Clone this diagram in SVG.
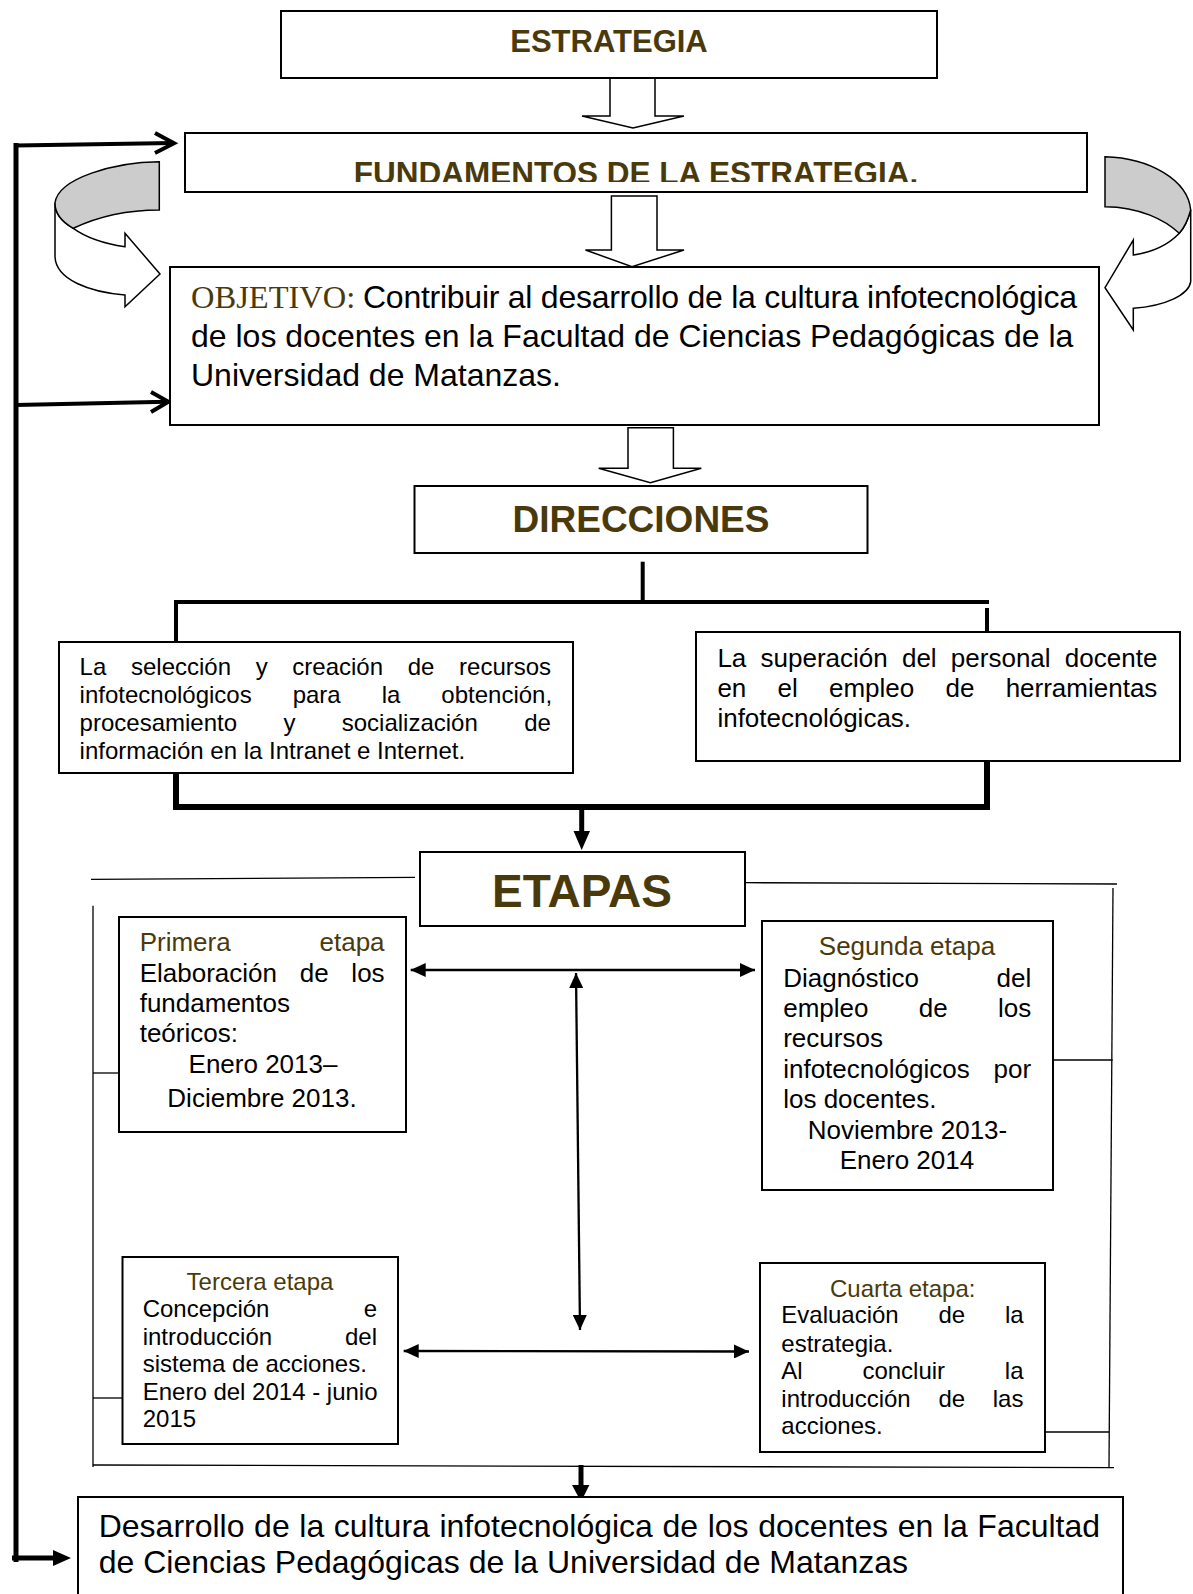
<svg xmlns="http://www.w3.org/2000/svg" width="1193" height="1594" viewBox="0 0 1193 1594">
<style>
.box{fill:#fff;stroke:#000;stroke-width:2}
.blk{fill:#fff;stroke:#000;stroke-width:1.5;stroke-linejoin:miter}
.t{font-family:"Liberation Sans",Arial,sans-serif;fill:#000}
.h{font-family:"Liberation Sans",Arial,sans-serif;font-weight:bold;fill:#4a3a0b;text-anchor:middle}
.br{fill:#4a3a0b}
.m{text-anchor:middle}
.e{text-anchor:end}
.thin{stroke:#000;stroke-width:1.3;fill:none}
.ar{stroke:#000;stroke-width:2.3;fill:none}
.thick{stroke:#000;fill:none}
</style>
<defs>
<marker id="tri" viewBox="0 0 15 14" refX="15" refY="7" markerWidth="15" markerHeight="14" markerUnits="userSpaceOnUse" orient="auto-start-reverse">
<path d="M0,0 L15,7 L0,14 Z" fill="#000"/>
</marker>
<clipPath id="fclip"><rect x="185" y="133" width="902" height="49"/></clipPath>
</defs>
<rect width="1193" height="1594" fill="#fff"/>

<g id="connectors">
<!-- feedback line -->
<line class="thick" x1="16" y1="143" x2="16" y2="1562" stroke-width="5"/>
<line class="thick" x1="16" y1="145.5" x2="173" y2="143" stroke-width="4"/>
<polyline class="thick" points="155,133 174,143.3 155,153" stroke-width="4"/>
<line class="thick" x1="16" y1="405" x2="167" y2="401.7" stroke-width="4"/>
<polyline class="thick" points="151,392 168.4,401.7 151,412" stroke-width="4"/>
<line class="thick" x1="12" y1="1558" x2="55" y2="1558" stroke-width="5"/>
<polygon points="53,1550 71,1558 53,1566" fill="#000"/>
<!-- block arrows -->
<polygon class="blk" points="610,78 655,78 655,116 684,116 633,128 582,116 610,116"/>
<polygon class="blk" points="611.4,196 657,196 657,250 684,250 632,266.7 585.5,250 611.4,250"/>
<polygon class="blk" points="628,427.7 673.4,427.7 673.4,468.3 701.3,468.3 650.4,482.7 598.7,468.3 628,468.3"/>
<!-- curved arrows -->
<path class="blk" d="M55,203 L55,256.7 C56,280 90,292 125,295 L125,306.7 L160,274 L125,233.3 L125,246.7 C100,243 84,236 73.3,228.3 C62,222 55,213 55,203 Z"/>
<path class="blk" style="fill:#cccccc" d="M159.3,161.7 C115,162 58,178 55,203 C55,213 62,222 73.3,228.3 C95,218 125,210 159.3,210 Z"/>
<path class="blk" d="M1190.7,210 L1190.7,281.7 C1189,295 1165,306 1133.3,308.3 L1133.3,330 L1105,287.7 L1133.3,240 L1133.3,255 C1155,252 1170,243 1179.3,233.3 C1184,228 1188,220 1190.7,210 Z"/>
<path class="blk" style="fill:#cccccc" d="M1105,156.7 C1150,158 1188,180 1190.7,210 C1188,220 1184,228 1179.3,233.3 C1165,220 1140,207 1105,206.7 Z"/>
<!-- direcciones tree -->
<line class="thick" x1="642.7" y1="561.7" x2="642.7" y2="602" stroke-width="4"/>
<line class="thick" x1="174" y1="602" x2="989" y2="602" stroke-width="4"/>
<line class="thick" x1="176" y1="602" x2="176" y2="642" stroke-width="4"/>
<line class="thick" x1="987" y1="608" x2="987" y2="632" stroke-width="4"/>
<polyline class="thick" points="176,773 176,807 987,807 987,761" stroke-width="6"/>
<line class="thick" x1="581.7" y1="807" x2="581.7" y2="833" stroke-width="5"/>
<polygon points="573.5,831 590,831 581.7,850" fill="#000"/>
<!-- etapas frame -->
<line class="thin" x1="91" y1="879.3" x2="415" y2="877.3"/>
<line class="thin" x1="745" y1="882.7" x2="1117" y2="884"/>
<line class="thin" x1="93" y1="905.7" x2="93" y2="1467"/>
<line class="thin" x1="93" y1="1073" x2="119" y2="1073"/>
<line class="thin" x1="93" y1="1398" x2="122.5" y2="1398"/>
<line class="thin" x1="93" y1="1465" x2="1114" y2="1467.7"/>
<line class="thin" x1="1113" y1="888" x2="1109" y2="1467"/>
<line class="thin" x1="1053" y1="1060" x2="1112.7" y2="1060"/>
<line class="thin" x1="1045" y1="1432" x2="1109" y2="1432"/>
<!-- etapa arrows -->
<line class="ar" x1="410.7" y1="970" x2="755" y2="970" marker-start="url(#tri)" marker-end="url(#tri)"/>
<line class="ar" x1="576" y1="973" x2="580" y2="1330" marker-start="url(#tri)" marker-end="url(#tri)"/>
<line class="ar" x1="403.7" y1="1351" x2="749" y2="1351.5" marker-start="url(#tri)" marker-end="url(#tri)"/>
<line class="thick" x1="581" y1="1465" x2="581" y2="1487" stroke-width="5"/>
<polygon points="572,1485 589.4,1485 581,1501.7" fill="#000"/>
</g>

<g id="estrategia">
<rect class="box" x="281" y="11" width="656" height="67"/>
<text class="h" x="609" y="52" font-size="31">ESTRATEGIA</text>
</g>

<g id="fundamentos">
<rect class="box" x="185" y="133" width="902" height="59"/>
<text class="h" x="636" y="184" font-size="31.5" clip-path="url(#fclip)">FUNDAMENTOS DE LA ESTRATEGIA.</text>
</g>

<g id="objetivo">
<rect class="box" x="170" y="267" width="929" height="158"/>
<text x="191" y="308" font-family="Liberation Serif,Times New Roman,serif" font-size="32.5" class="br">OBJETIVO:</text>
<text class="t" x="363" y="308" font-size="32" textLength="714" lengthAdjust="spacing">Contribuir al desarrollo de la cultura infotecnológica</text>
<text class="t" x="191" y="347" font-size="32">de los docentes en la Facultad de Ciencias Pedagógicas de la</text>
<text class="t" x="191" y="386" font-size="32">Universidad de Matanzas.</text>
</g>

<g id="direcciones">
<rect class="box" x="414.5" y="486" width="453" height="67"/>
<text class="h" x="641" y="532" font-size="37">DIRECCIONES</text>
</g>

<g id="direccion1">
<rect class="box" x="59" y="642" width="514" height="131"/>
<text class="t" font-size="24">
<tspan x="79.6" y="675" word-spacing="18">La selección y creación de recursos</tspan>
<tspan x="79.6" y="703" word-spacing="34.3">infotecnológicos para la obtención,</tspan>
<tspan x="79.6" y="731" word-spacing="39.7">procesamiento y socialización de</tspan>
<tspan x="79.6" y="758.5">información en la Intranet e Internet.</tspan>
</text>
</g>

<g id="direccion2">
<rect class="box" x="696" y="632" width="484" height="129"/>
<text class="t" font-size="26">
<tspan x="717.4" y="667" word-spacing="7">La superación del personal docente</tspan>
<tspan x="717.4" y="697" word-spacing="24">en el empleo de herramientas</tspan>
<tspan x="717.4" y="727">infotecnológicas.</tspan>
</text>
</g>

<g id="etapas">
<rect class="box" x="420" y="852" width="325" height="74"/>
<text class="h" x="582" y="907" font-size="46">ETAPAS</text>
</g>

<g id="primera">
<rect class="box" x="119" y="917" width="287" height="215"/>
<text class="t br" x="139.7" y="951" font-size="26">Primera</text>
<text class="t br e" x="384.6" y="951" font-size="26">etapa</text>
<text class="t" x="139.7" y="982" font-size="26" word-spacing="15.5">Elaboración de los</text>
<text class="t" x="139.7" y="1012" font-size="26">fundamentos</text>
<text class="t" x="139.7" y="1042" font-size="26">teóricos:</text>
<text class="t m" x="263" y="1073" font-size="26">Enero 2013–</text>
<text class="t m" x="262" y="1107" font-size="26">Diciembre 2013.</text>
</g>

<g id="segunda">
<rect class="box" x="762" y="921" width="291" height="269"/>
<text class="t br m" x="907" y="955" font-size="26">Segunda etapa</text>
<text class="t" x="783.2" y="987" font-size="26">Diagnóstico</text>
<text class="t e" x="1031.2" y="987" font-size="26">del</text>
<text class="t" x="783.2" y="1017" font-size="26" word-spacing="43.1">empleo de los</text>
<text class="t" x="783.2" y="1047" font-size="26">recursos</text>
<text class="t" x="783.2" y="1078" font-size="26">infotecnológicos</text>
<text class="t e" x="1031.2" y="1078" font-size="26">por</text>
<text class="t" x="783.2" y="1108" font-size="26">los docentes.</text>
<text class="t m" x="907.5" y="1139" font-size="26">Noviembre 2013-</text>
<text class="t m" x="907" y="1169" font-size="26">Enero 2014</text>
</g>

<g id="tercera">
<rect class="box" x="122.5" y="1257" width="275.5" height="187"/>
<text class="t br m" x="260" y="1290" font-size="24">Tercera etapa</text>
<text class="t" x="142.7" y="1317" font-size="24">Concepción</text>
<text class="t e" x="377" y="1317" font-size="24">e</text>
<text class="t" x="142.7" y="1345" font-size="24">introducción</text>
<text class="t e" x="377" y="1345" font-size="24">del</text>
<text class="t" x="142.7" y="1372" font-size="24">sistema de acciones.</text>
<text class="t" x="142.7" y="1400" font-size="24">Enero del 2014 - junio</text>
<text class="t" x="142.7" y="1427" font-size="24">2015</text>
</g>

<g id="cuarta">
<rect class="box" x="760" y="1263" width="285" height="189"/>
<text class="t br m" x="902.7" y="1297" font-size="24">Cuarta etapa:</text>
<text class="t" x="781.3" y="1323" font-size="24" word-spacing="33.1">Evaluación de la</text>
<text class="t" x="781.3" y="1352" font-size="24">estrategia.</text>
<text class="t" x="781.3" y="1379" font-size="24" word-spacing="53.1">Al concluir la</text>
<text class="t" x="781.3" y="1407" font-size="24" word-spacing="21">introducción de las</text>
<text class="t" x="781.3" y="1434" font-size="24">acciones.</text>
</g>

<g id="desarrollo">
<rect class="box" x="78" y="1497" width="1045" height="120"/>
<text class="t" x="98.7" y="1537" font-size="32" word-spacing="0.7">Desarrollo de la cultura infotecnológica de los docentes en la Facultad</text>
<text class="t" x="98.7" y="1573" font-size="32">de Ciencias Pedagógicas de la Universidad de Matanzas</text>
</g>
</svg>
